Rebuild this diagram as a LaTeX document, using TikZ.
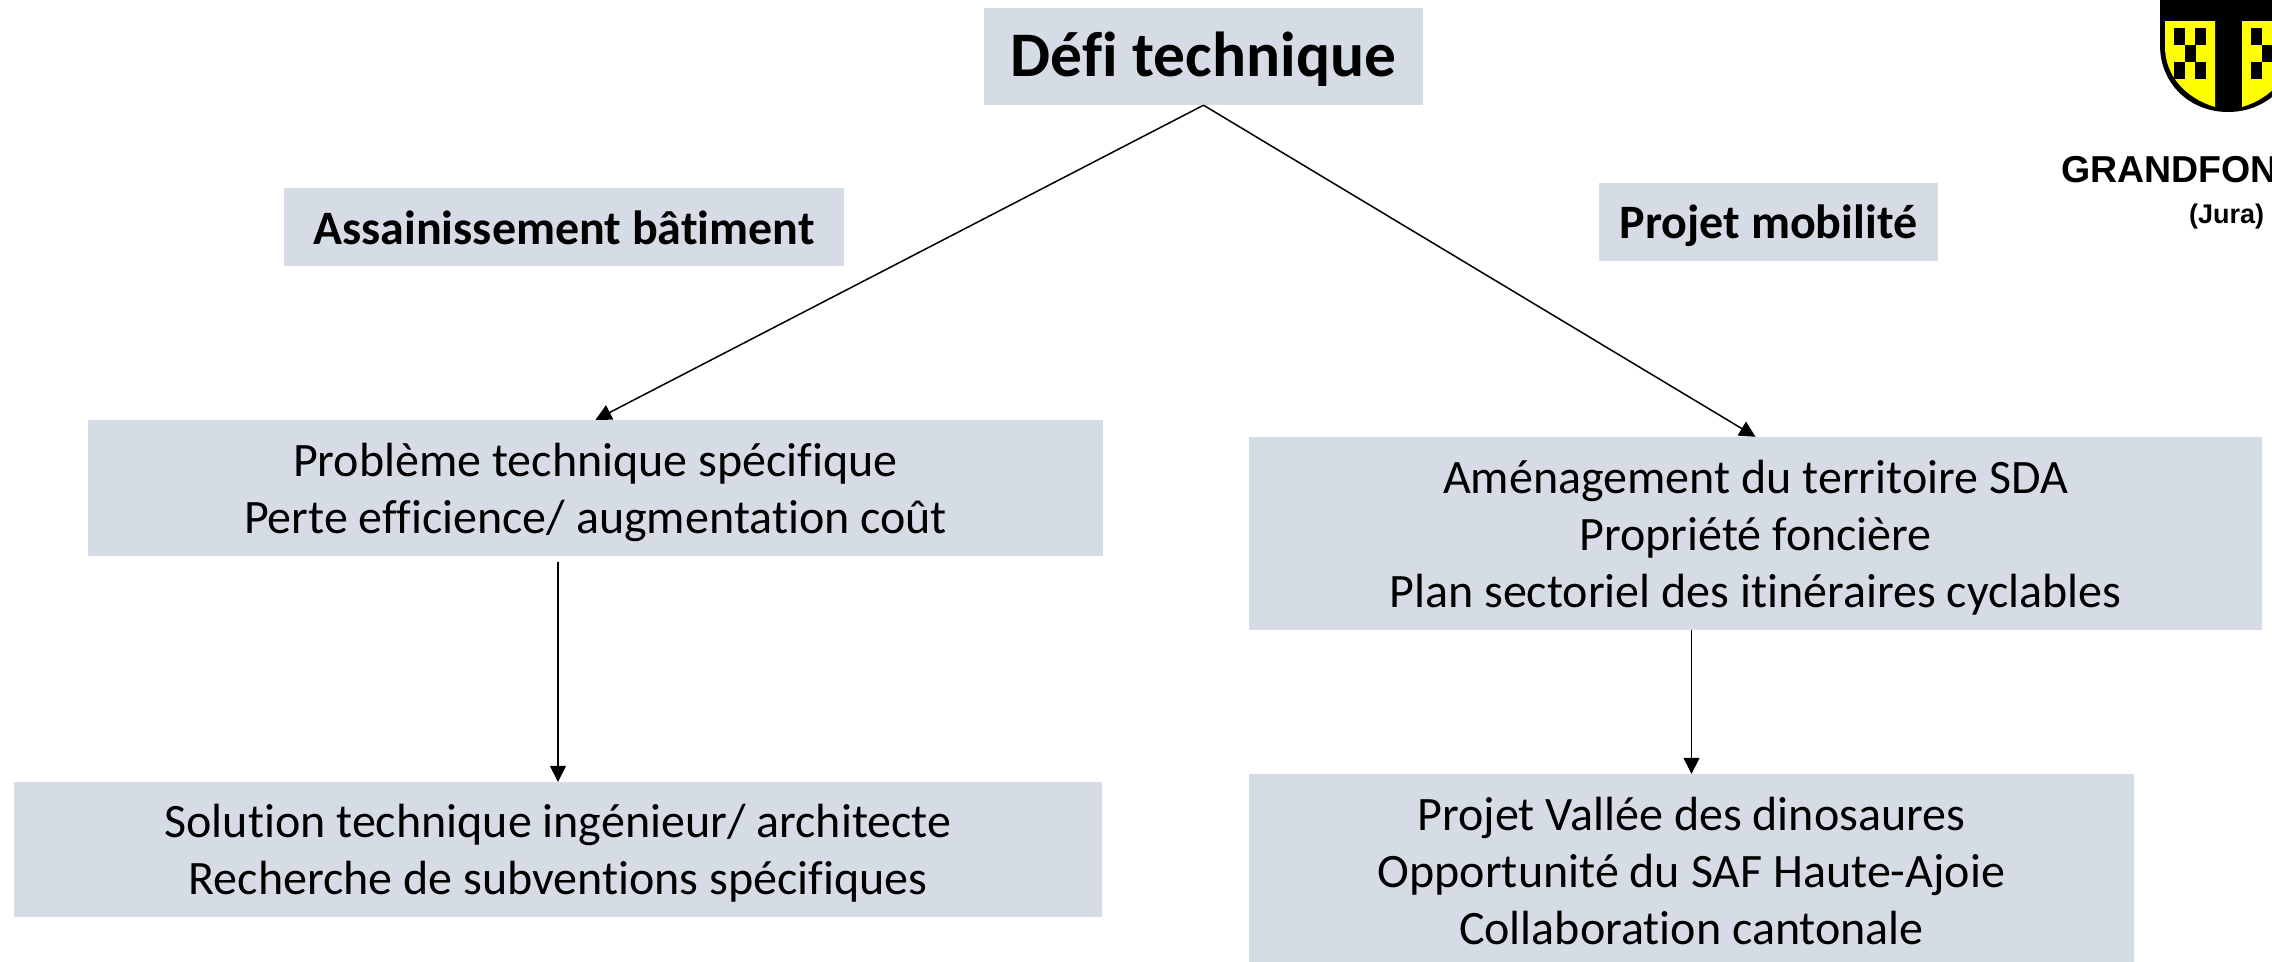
\documentclass[tikz,border=0pt]{standalone}
\usepackage{fontspec}
\setmainfont{Carlito}[Ligatures=NoCommon]
\newfontfamily\arialf{Liberation Sans}
\usetikzlibrary{arrows.meta}
\definecolor{boxblue}{HTML}{D6DCE5}
\definecolor{shieldyellow}{HTML}{FFFF00}
\tikzset{
  x=1pt,y=-1pt,
  box/.style={fill=boxblue,inner sep=0pt,align=center,anchor=center,text=black},
  lowered/.style 2 args={execute at begin node={\rule{0pt}{#1}},execute at end node={\rule[-#2]{0pt}{#2}}},
  bodytext/.style={font=\fontsize{48}{57}\selectfont},
  twolines/.style={bodytext,lowered={106pt}{16pt}},
  threelines/.style={bodytext,lowered={163pt}{16pt}},
  headtext/.style={font=\fontsize{48}{57}\selectfont\bfseries},
  titletext/.style={font=\fontsize{63.5}{76}\selectfont\bfseries,lowered={60pt}{21pt}},
  link/.style={draw=black,line width=1.5pt,-{Triangle[length=16pt,width=16pt]}},
  logotext/.style={inner sep=0pt,anchor=base west,text=black}
}
\begin{document}
\begin{tikzpicture}
\clip (0,0) rectangle (2272,961);
\fill[white] (0,0) rectangle (2272,961);
% boxes
\node[box,titletext,minimum width=439pt,minimum height=97pt] (defi) at (1203.5,56.5) {Défi technique};
\node[box,headtext,lowered={50pt}{16pt},minimum width=560pt,minimum height=78pt] (assain) at (564,227) {Assainissement bâtiment};
\node[box,headtext,lowered={50pt}{18pt},minimum width=339pt,minimum height=78pt] (mobil) at (1768.5,222) {Projet mobilité};
\node[box,twolines,minimum width=1015pt,minimum height=136pt] (prob) at (595.5,488) {Problème technique spécifique\\Perte efficience/ augmentation coût};
\node[box,threelines,minimum width=1013pt,minimum height=193pt] (amen) at (1755.5,533.5) {Aménagement du territoire SDA\\Propriété foncière\\Plan sectoriel des itinéraires cyclables};
\node[box,twolines,minimum width=1088pt,minimum height=135pt] (sol) at (558,849.5) {Solution technique ingénieur/ architecte\\Recherche de subventions spécifiques};
\node[box,threelines,minimum width=885pt,minimum height=193pt] (vallee) at (1691.5,870.5) {Projet Vallée des dinosaures\\Opportunité du SAF Haute-Ajoie\\Collaboration cantonale};
% connectors
\coordinate (probout) at ([yshift=-6pt]sol.north |- prob.south);
\coordinate (amenout) at (vallee.north |- amen.south);
\draw[link] (defi.south) -- (prob.north);
\draw[link] (defi.south) -- (amen.north);
\draw[link] (probout) -- (sol.north);
\draw[link] (amenout) -- (vallee.north);
% logo
\fill[black] (2160,-2) -- (2160,45) .. controls (2160,85) and (2191,112) .. (2228,112)
  .. controls (2265,112) and (2296,85) .. (2296,45) -- (2296,-2) -- cycle;
\fill[shieldyellow] (2165,21) -- (2215,21) -- (2215,107) .. controls (2185,98) and (2165,75) .. (2165,47) -- cycle;
\fill[shieldyellow] (2242,21) -- (2292,21) -- (2292,47) .. controls (2292,75) and (2272,98) .. (2242,107) -- cycle;
\foreach \xa/\ya in {2174/28,2195/28,2185/45,2174/62,2195/62,2251/28,2272/28,2262/45,2251/62,2272/62}
  \fill[black] (\xa,\ya) rectangle ++(10.5,17);
\node[logotext,font=\arialf\fontsize{37.5}{40}\selectfont\bfseries] (logoname) at (2061,182) {GRANDFON};
\node[logotext,font=\arialf\fontsize{27}{30}\selectfont\bfseries] (logoplace) at (2189,223) {(Jura)};
\end{tikzpicture}
\end{document}
